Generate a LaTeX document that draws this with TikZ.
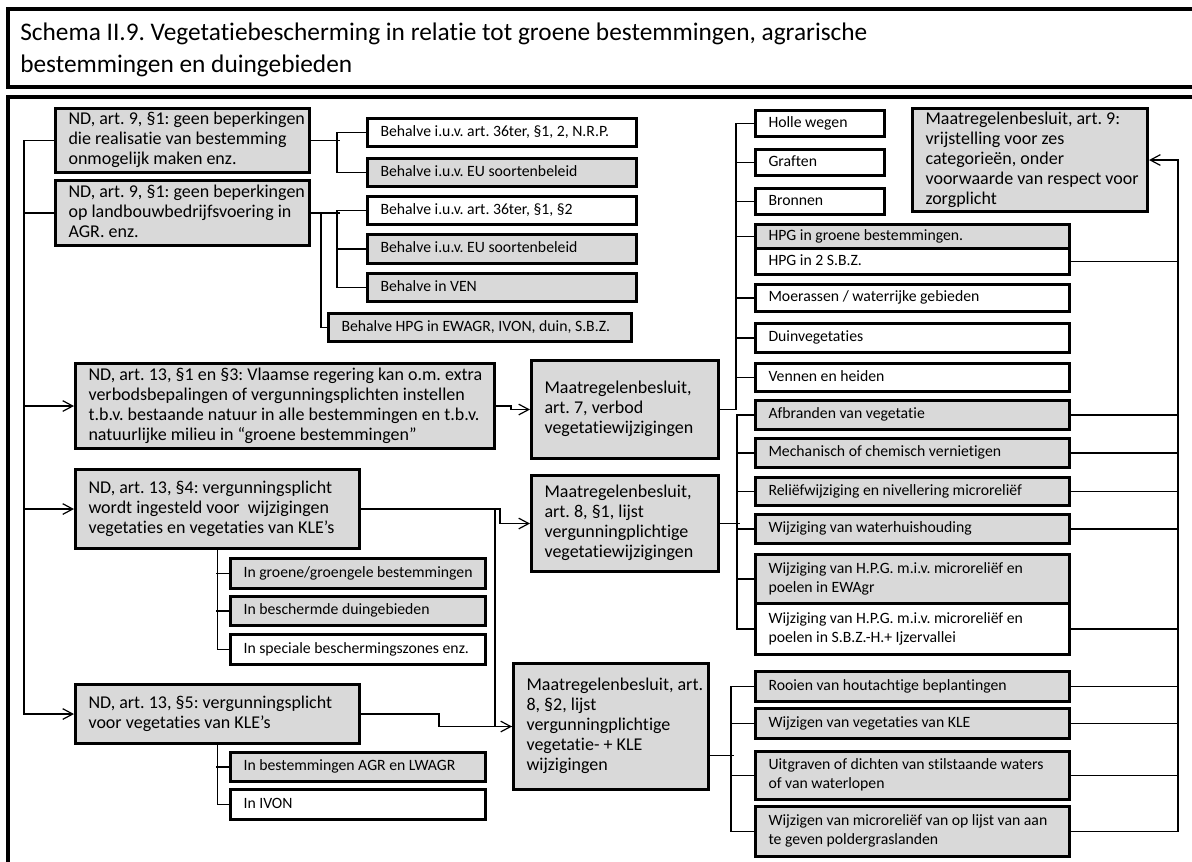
\documentclass[tikz,border=0pt]{standalone}
\usepackage{fontspec}
\setmainfont{Carlito}[Ligatures=NoCommon]
\usetikzlibrary{arrows.meta,calc}
\definecolor{boxgrey}{HTML}{D9D9D9}
\frenchspacing

% box with top-left corner at (x,y), size w x h (pixel units), left-aligned lines
\newcommand\putbox[7]{%
  \pgfmathsetmacro\bxw{#5*0.75}%
  \pgfmathsetmacro\bxh{#6*0.75}%
  \node[#1, minimum width=\bxw pt, minimum height=\bxh pt] (#2) at (#3,#4)
    {\makebox[\bxw pt][l]{\hspace{9.75pt}\begin{tabular}{@{}l@{}}#7\end{tabular}}};}

\begin{document}
\begin{tikzpicture}[x=0.75pt,y=-0.75pt,
  basebox/.style={draw=black, line width=2.3pt, anchor=north west, inner sep=0pt,
    font=\fontsize{11.8}{14.3}\selectfont},
  gbox/.style={basebox, fill=boxgrey},
  wbox/.style={basebox, fill=white},
  big/.style={font=\fontsize{13.5}{15}\selectfont},
  conn/.style={draw=black, line width=0.9pt},
  arr/.style={conn, -{Straight Barb[length=7.5pt,width=8pt]}},
  frame/.style={draw=black, line width=2.3pt},
]
\useasboundingbox (0,0) rectangle (1192,862);
\clip (0,0) rectangle (1192,862);

% outer frames
\draw[frame] (8,9) rectangle (1250,87);
\draw[frame] (8,97) rectangle (1250,950);
\node[anchor=base west, inner sep=0pt, font=\fontsize{19}{24}\selectfont] (title1) at (20,41)
  {Schema II.9. Vegetatiebescherming in relatie tot groene bestemmingen, agrarische};
\node[anchor=base west, inner sep=0pt, font=\fontsize{19}{24}\selectfont] (title2) at (20,73)
  {bestemmingen en duingebieden};

% Natuurdecreet, art. 9
\putbox{gbox,big}{nda}{54}{107}{254}{64}{ND, art. 9, §1: geen beperkingen\\die realisatie van bestemming\\onmogelijk maken enz.}
\putbox{gbox,big}{ndb}{54}{179}{254}{65}{ND, art. 9, §1: geen beperkingen\\op landbouwbedrijfsvoering in\\AGR. enz.}
\putbox{wbox}{b1}{366}{117}{269}{28}{Behalve i.u.v. art. 36ter, §1, 2, N.R.P.}
\putbox{gbox}{b2}{366}{157}{269}{28}{Behalve i.u.v. EU soortenbeleid}
\putbox{wbox}{b3}{366}{195}{269}{28}{Behalve i.u.v. art. 36ter, §1, §2}
\putbox{gbox}{b4}{366}{233}{269}{29}{Behalve i.u.v. EU soortenbeleid}
\putbox{gbox}{b5}{366}{272}{269}{28}{Behalve in VEN}
\putbox{gbox}{b6}{327}{312}{303}{28}{Behalve HPG in EWAGR, IVON, duin, S.B.Z.}

% Natuurdecreet, art. 13
\putbox{gbox,big}{ndc}{74}{362}{419}{85}{ND, art. 13, §1 en §3: Vlaamse regering kan o.m. extra\\verbodsbepalingen of vergunningsplichten instellen\\t.b.v. bestaande natuur in alle bestemmingen en t.b.v.\\natuurlijke milieu in “groene bestemmingen”}
\putbox{gbox,big}{ndd}{74}{468}{284}{79}{ND, art. 13, §4: vergunningsplicht\\wordt ingesteld voor\ \ wijzigingen\\vegetaties en vegetaties van KLE’s}
\putbox{gbox}{g1}{229}{557}{255}{30}{In groene/groengele bestemmingen}
\putbox{gbox}{g2}{229}{595}{255}{29}{In beschermde duingebieden}
\putbox{wbox}{g3}{229}{633}{255}{30}{In speciale beschermingszones enz.}
\putbox{gbox,big}{nde}{74}{683}{284}{59}{ND, art. 13, §5: vergunningsplicht\\voor vegetaties van KLE’s}
\putbox{gbox}{k1}{229}{751}{255}{29}{In bestemmingen AGR en LWAGR}
\putbox{wbox}{k2}{229}{788}{255}{30}{In IVON}

% Maatregelenbesluit
\putbox{gbox,big}{mba}{530}{359}{187}{98}{Maatregelenbesluit,\\art. 7, verbod\\vegetatiewijzigingen}
\putbox{gbox,big}{mbb}{530}{474}{187}{96}{Maatregelenbesluit,\\art. 8, §1, lijst\\vergunningplichtige\\vegetatiewijzigingen}
\putbox{gbox,big}{mbc}{512}{662}{195}{126}{Maatregelenbesluit, art.\\8, §2, lijst\\vergunningplichtige\\vegetatie- + KLE\\wijzigingen}
\putbox{gbox,big}{mbd}{911}{107}{235}{103}{Maatregelenbesluit, art. 9:\\vrijstelling voor zes\\categorieën, onder\\voorwaarde van respect voor\\zorgplicht}

% art. 7 list
\putbox{wbox}{r1}{754}{109}{129}{26}{Holle wegen}
\putbox{wbox}{r2}{754}{148}{129}{26}{Graften}
\putbox{wbox}{r3}{754}{187}{129}{26}{Bronnen}
\putbox{gbox}{r4a}{754}{223}{314}{24}{HPG in groene bestemmingen.}
\putbox{wbox}{r4b}{754}{247}{314}{26}{HPG in 2 S.B.Z.}
\putbox{wbox}{r5}{754}{283}{314}{27}{Moerassen / waterrijke gebieden}
\putbox{wbox}{r6}{754}{322}{314}{29}{Duinvegetaties}
\putbox{wbox}{r7}{754}{362}{314}{28}{Vennen en heiden}

% art. 8, §1 list
\putbox{gbox}{s1}{754}{399}{314}{29}{Afbranden van vegetatie}
\putbox{gbox}{s2}{754}{437}{314}{29}{Mechanisch of chemisch vernietigen}
\putbox{gbox}{s3}{754}{476}{314}{28}{Reliëfwijziging en nivellering microreliëf}
\putbox{gbox}{s4}{754}{513}{314}{29}{Wijziging van waterhuishouding}
\putbox{gbox}{s5}{754}{553}{314}{49}{Wijziging van H.P.G. m.i.v. microreliëf en\\poelen in EWAgr}
\putbox{wbox}{s6}{754}{602}{314}{51}{Wijziging van H.P.G. m.i.v. microreliëf en\\poelen in S.B.Z.-H.+ Ijzervallei}

% art. 8, §2 list
\putbox{gbox}{t1}{754}{670}{314}{30}{Rooien van houtachtige beplantingen}
\putbox{gbox}{t2}{754}{707}{314}{30}{Wijzigen van vegetaties van KLE}
\putbox{gbox}{t3}{754}{750}{314}{48}{Uitgraven of dichten van stilstaande waters\\of van waterlopen}
\putbox{gbox}{t4}{754}{805}{314}{50}{Wijzigen van microreliëf van op lijst van aan\\te geven poldergraslanden}

% main bus on the left
\draw[conn] (nda.west) -- ++(-30,0) coordinate (busL) |- (ndb.west);
\draw[arr] (busL) |- (ndc.west);
\draw[arr] (busL) |- (ndd.west);
\draw[arr] (busL) |- (nde.west);

% art. 9 exceptions
\draw[conn] (nda.east) -- ++(29,0);
\draw[conn] (b1.west) -- ++(-29,0) |- (b2.west);
\draw[conn] (ndb.east) -- ++(29,0);
\draw[conn] (b3.west) -- ++(-29,0) |- (b5.west);
\draw[conn] (b4.west) -- ++(-29,0);
\draw[conn] (ndb.east) ++(10,0) |- (b6.west);

% art. 13 to Maatregelenbesluit
\draw[arr] (ndc.east) -- ++(15,0) |- (mba.west);
\draw[arr] (ndd.east) -- ++(139,0) |- (mbb.west);
\draw[arr] (ndd.east) ++(134,0) |- (mbc.west);
\draw[conn] (nde.east) -- ++(78,0) |- (mbc.west);

% art. 13 sub-items
\draw[conn] (ndd.south) |- (g3.west);
\draw[conn] (g1.west) -- ++(-13,0);
\draw[conn] (g2.west) -- ++(-13,0);
\draw[conn] (nde.south) |- (k2.west);
\draw[conn] (k1.west) -- ++(-13,0);

% Maatregelenbesluit lists
\draw[conn] (r1.west) -- ++(-18,0) |- (mba.east);
\foreach \n in {r2,r3,r4a,r5,r6,r7} \draw[conn] (\n.west) -- ++(-18,0);
\draw[conn] (s1.west) -- ++(-17,0) |- (s6.west);
\foreach \n in {s2,s3,s4,s5} \draw[conn] (\n.west) -- ++(-17,0);
\draw[conn] (mbb.east) -- ++(20,0);
\draw[conn] (t1.west) -- ++(-23,0) |- (t4.west);
\foreach \n in {t2,t3} \draw[conn] (\n.west) -- ++(-23,0);
\draw[conn] ($(mbc.east)+(0,29)$) -- ++(24,0);

% right bus to art. 9 exemption
\draw[arr] (t4.east) -- ++(107,0) |- (mbd.east);
\foreach \n in {r4b,s1,s2,s3,s4,s6,t1,t2,t3} \draw[conn] (\n.east) -- ++(107,0);
\end{tikzpicture}
\end{document}
